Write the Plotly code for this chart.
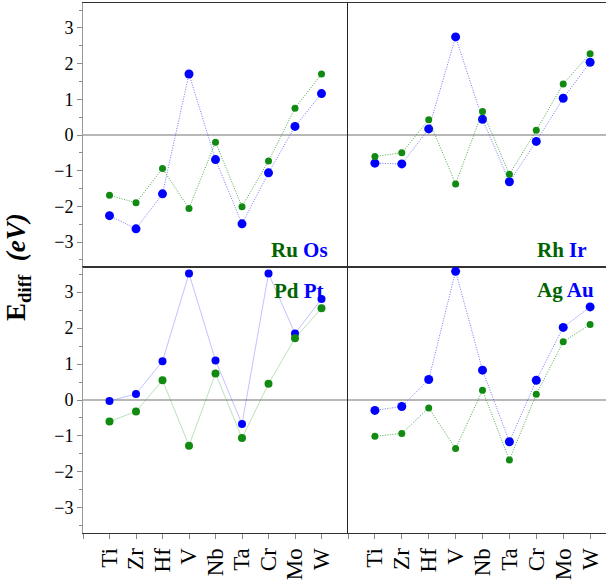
import plotly.graph_objects as go

elements = ["Ti", "Zr", "Hf", "V", "Nb", "Ta", "Cr", "Mo", "W"]

ru = [-1.69, -1.90, -0.94, -2.06, -0.20, -2.01, -0.73, 0.75, 1.71]
os_ = [-2.26, -2.63, -1.65, 1.71, -0.69, -2.49, -1.06, 0.24, 1.16]

rh = [-0.60, -0.50, 0.43, -1.37, 0.66, -1.10, 0.13, 1.43, 2.28]
ir = [-0.79, -0.81, 0.17, 2.75, 0.44, -1.31, -0.18, 1.03, 2.04]

pd_ = [-0.60, -0.32, 0.55, -1.27, 0.74, -1.06, 0.45, 1.72, 2.55]
pt = [-0.03, 0.17, 1.08, 3.52, 1.10, -0.67, 3.52, 1.85, 2.81]

ag = [-1.01, -0.93, -0.22, -1.35, 0.27, -1.67, 0.16, 1.62, 2.10]
au = [-0.29, -0.18, 0.57, 3.58, 0.83, -1.16, 0.55, 2.02, 2.59]

panels = [
    ("Ru", "Os", ru, os_, "x", "y", "dot"),
    ("Rh", "Ir", rh, ir, "x2", "y2", "dot"),
    ("Pd", "Pt", pd_, pt, "x3", "y3", "solid"),
    ("Ag", "Au", ag, au, "x4", "y4", "dot"),
]

xpos = list(range(1, len(elements) + 1))
GREEN = "#118a11"
BLUE = "#0000ff"
TXT_GREEN = "#006400"

fig = go.Figure()
for g_name, b_name, gv, bv, xa, ya, dash in panels:
    if dash == "solid":
        gl = dict(color="rgba(60,170,60,0.35)", width=1, dash="solid")
        bl = dict(color="rgba(80,80,255,0.35)", width=1, dash="solid")
        gs, bs = 8, 8
    else:
        gl = dict(color="rgba(30,150,30,0.8)", width=1, dash="1px,1.5px")
        bl = dict(color="rgba(70,70,255,0.75)", width=1, dash="1px,1.5px")
        gs, bs = 7, 9
    fig.add_trace(go.Scatter(x=xpos, y=bv, mode="lines+markers", name=b_name,
                             line=bl, marker=dict(color=BLUE, size=bs),
                             xaxis=xa, yaxis=ya, showlegend=False))
    fig.add_trace(go.Scatter(x=xpos, y=gv, mode="lines+markers", name=g_name,
                             line=gl, marker=dict(color=GREEN, size=gs),
                             xaxis=xa, yaxis=ya, showlegend=False))

W, H = 606, 582
ml, mt, mb = 83, 3, 49
pw = W - ml
ph = H - mt - mb
xsplit = (348 - ml) / pw
ysplit = (533 - 267) / ph

font = dict(family="Liberation Serif, Times New Roman, serif", size=18, color="black")
xfont = dict(family="Liberation Serif, Times New Roman, serif", size=23, color="black")
yr = [-3.7, 3.7]
tickvals = list(range(0, 11))
ticktext = [""] + elements + [""]

def xaxis(domain, rng, labels):
    d = dict(domain=domain, range=rng, showline=True, linecolor="#333", linewidth=1,
             mirror=True, showgrid=False, zeroline=False, tickvals=tickvals,
             ticktext=ticktext, tickfont=xfont)
    if labels:
        d.update(ticks="outside", ticklen=5, tickcolor="#888", tickangle=-90,
                 showticklabels=True)
    else:
        d.update(ticks="", showticklabels=False)
    return d

def yaxis(domain, anchor, left):
    d = dict(domain=domain, range=yr, anchor=anchor, showgrid=False,
             zeroline=True, zerolinecolor="#b8b8b8", zerolinewidth=1.5,
             showline=True, mirror=False)
    if left:
        d.update(linecolor="#999", linewidth=1, ticks="outside", ticklen=5,
                 tickcolor="#888", dtick=1, tick0=0, tickfont=font,
                 showticklabels=True,
                 minor=dict(ticks="outside", ticklen=3, tickcolor="#888", dtick=0.5))
    else:
        d.update(linecolor="#222", linewidth=1, ticks="", showticklabels=False)
    return d

xr_right = [0, (W - 348) / 26.9]

fig.update_layout(
    width=W, height=H,
    margin=dict(l=ml, r=0, t=mt, b=mb),
    paper_bgcolor="white", plot_bgcolor="white",
    xaxis=xaxis([0, xsplit], [0, 10], False) | dict(anchor="y"),
    xaxis2=xaxis([xsplit, 1], xr_right, False) | dict(anchor="y2"),
    xaxis3=xaxis([0, xsplit], [0, 10], True) | dict(anchor="y3"),
    xaxis4=xaxis([xsplit, 1], xr_right, True) | dict(anchor="y4"),
    yaxis=yaxis([ysplit, 1], "x", True),
    yaxis2=yaxis([ysplit, 1], "x2", False),
    yaxis3=yaxis([0, ysplit], "x3", True),
    yaxis4=yaxis([0, ysplit], "x4", False),
)

lab_font = dict(family="Liberation Serif, Times New Roman, serif", size=21)
label_pos = [
    ("x", "y", 299, 250),
    ("x2", "y2", 562, 250),
    ("x3", "y3", 299, 291),
    ("x4", "y4", 565, 290),
]
for (g_name, b_name, *_), (xa, ya, px, py) in zip(panels, label_pos):
    fig.add_annotation(
        xref="paper", yref="paper",
        x=(px - ml) / pw, y=(H - mb - py) / ph,
        text=f"<b><span style='color:{TXT_GREEN}'>{g_name}</span> "
             f"<span style='color:{BLUE}'>{b_name}</span></b>",
        showarrow=False, font=lab_font, xanchor="center", yanchor="middle")

fig.add_annotation(
    xref="paper", yref="paper", x=(18 - ml) / pw, y=(H - mb - 267) / ph,
    text="<b>E<sub>diff</sub>  <i>(eV)</i></b>", textangle=-90,
    showarrow=False, font=dict(family="Liberation Serif, Times New Roman, serif",
                               size=27, color="black"),
    xanchor="center", yanchor="middle")

fig.write_html(
    "out.html",
    config={"displayModeBar": False},
    post_script="document.body.style.margin='0';document.body.style.padding='0';"
                "document.body.style.overflow='hidden';"
                "document.documentElement.style.overflow='hidden';",
)
